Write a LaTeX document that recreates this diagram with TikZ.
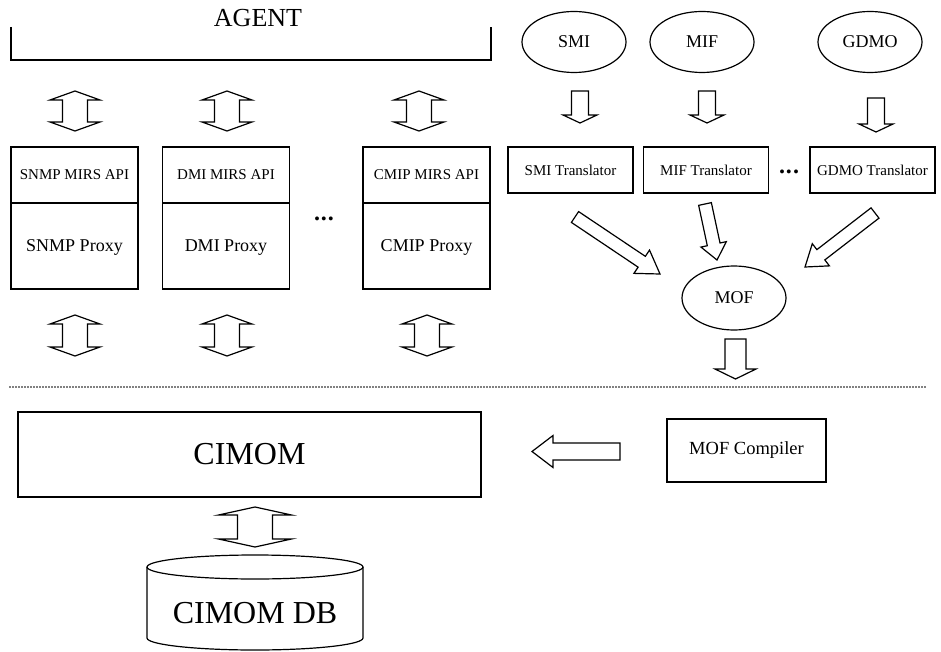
\documentclass[tikz,border=0pt]{standalone}
\usepackage{fontspec}
\setmainfont{Liberation Serif}
\usetikzlibrary{calc,positioning,shapes.geometric}

% hollow block arrows: from, to, shaft half width, head half width, head length
\newcommand{\fatarrow}[5]{%
  \coordinate (fa-b) at ($(#2)!#5!(#1)$);
  \draw[blk] ($(#1)!#3!90:(#2)$) -- ($(fa-b)!#3!90:(#2)$) -- ($(fa-b)!#4!90:(#2)$)
    -- (#2) -- ($(fa-b)!#4!-90:(#2)$) -- ($(fa-b)!#3!-90:(#2)$)
    -- ($(#1)!#3!-90:(#2)$) -- cycle;}
\newcommand{\dblarrow}[5]{%
  \coordinate (fa-a) at ($(#1)!#5!(#2)$);
  \coordinate (fa-b) at ($(#2)!#5!(#1)$);
  \draw[blk] (#1) -- ($(fa-a)!#4!90:(#2)$) -- ($(fa-a)!#3!90:(#2)$)
    -- ($(fa-b)!#3!90:(#2)$) -- ($(fa-b)!#4!90:(#2)$) -- (#2)
    -- ($(fa-b)!#4!-90:(#2)$) -- ($(fa-b)!#3!-90:(#2)$)
    -- ($(fa-a)!#3!-90:(#2)$) -- ($(fa-a)!#4!-90:(#2)$) -- cycle;}

\begin{document}
\begin{tikzpicture}[
  x=1pt,y=-1pt,line width=1.2pt,
  blk/.style={draw,fill=white,line join=miter},
  api/.style={draw,outer sep=0pt,inner sep=0pt,minimum width=127pt,minimum height=56pt,
    text depth=-9pt,font=\fontsize{15}{18}\selectfont},
  px/.style={draw,outer sep=0pt,inner sep=0pt,minimum width=127pt,minimum height=86pt,
    text depth=-7pt,font=\fontsize{18}{21}\selectfont},
  src/.style={draw,ellipse,inner sep=0pt,minimum width=104pt,minimum height=61pt,
    font=\fontsize{18}{21}\selectfont},
  tr/.style={draw,inner sep=0pt,minimum width=125pt,minimum height=46pt,
    font=\fontsize{15}{18}\selectfont},
  dots/.style={inner sep=0pt,font=\fontsize{24}{26}\selectfont\bfseries}
]
  \useasboundingbox (0,0) rectangle (941,652);

  % agent side
  \node[font=\fontsize{26}{30}\selectfont] (agent) at (258,18) {AGENT};
  \draw (11,27) -- (11,60) -- (491,60) -- (491,27);

  \node[api] (snmpapi) at (74.5,175) {SNMP MIRS API};
  \node[px,below=0pt of snmpapi] (snmppx) {SNMP Proxy};
  \node[api] (dmiapi) at (226,175) {DMI MIRS API};
  \node[px,below=0pt of dmiapi] (dmipx) {DMI Proxy};
  \node[api] (cmipapi) at (426.5,175) {CMIP MIRS API};
  \node[px,below=0pt of cmipapi] (cmippx) {CMIP Proxy};
  \node[dots] (dots1) at (324,219) {.\kern1pt.\kern1pt.};

  \foreach \nm/\xa/\xb in {snmp/75/75,dmi/227/227,cmip/419/427}{
    \coordinate (\nm-ua) at (\xa,91);  \coordinate (\nm-ub) at (\xa,131);
    \coordinate (\nm-la) at (\xb,315); \coordinate (\nm-lb) at (\xb,356);
    \dblarrow{\nm-ua}{\nm-ub}{12.5pt}{25pt}{9pt}
    \dblarrow{\nm-la}{\nm-lb}{12.5pt}{25pt}{9pt}
  }

  % information models
  \node[src] (smi) at (574,42) {SMI};
  \node[src] (mif) at (702,42) {MIF};
  \node[src] (gdmo) at (870,42) {GDMO};
  \node[tr] (smitr) at (570.5,170) {SMI Translator};
  \node[tr] (miftr) at (706,170) {MIF Translator};
  \node[tr] (gdmotr) at (872.5,170) {GDMO Translator};
  \node[dots] (dots2) at (789,172) {.\kern1pt.\kern1pt.};
  \node[src,minimum height=64pt] (mof) at (734,298) {MOF};

  \coordinate (smi-o) at (580,91);  \coordinate (smitr-i) at (580,123);
  \coordinate (mif-o) at (707,91);  \coordinate (miftr-i) at (707,123);
  \coordinate (gdmo-o) at (876,98); \coordinate (gdmotr-i) at (876,132);
  \fatarrow{smi-o}{smitr-i}{8.5pt}{17pt}{8pt}
  \fatarrow{mif-o}{miftr-i}{8.5pt}{17pt}{8pt}
  \fatarrow{gdmo-o}{gdmotr-i}{8.5pt}{17pt}{8pt}

  \coordinate (smitr-o) at (575,217);  \coordinate (mof-i1) at (660,274);
  \coordinate (miftr-o) at (705,204);  \coordinate (mof-i2) at (717,260);
  \coordinate (gdmotr-o) at (875,213); \coordinate (mof-i3) at (805,267);
  \fatarrow{smitr-o}{mof-i1}{6.5pt}{14pt}{22pt}
  \fatarrow{miftr-o}{mof-i2}{6.5pt}{13pt}{16pt}
  \fatarrow{gdmotr-o}{mof-i3}{6.5pt}{14pt}{20pt}

  \coordinate (mof-o) at (735.5,339); \coordinate (mofc-i) at (735.5,379);
  \fatarrow{mof-o}{mofc-i}{10.5pt}{20.5pt}{10pt}

  \draw[line width=1.7pt,line cap=round,dash pattern=on 0pt off 3pt] (10,387) -- (925,387);

  % management server
  \node[draw,minimum width=463pt,minimum height=85pt,
    font=\fontsize{32}{36}\selectfont] (cimom) at (249.5,454.5) {CIMOM};
  \node[draw,minimum width=159pt,minimum height=63pt,
    font=\fontsize{18.5}{22}\selectfont] (mofc) at (746.5,450.5) {MOF Compiler};
  \coordinate (mofc-w) at (620,451.5); \coordinate (cimom-e) at (532,451.5);
  \fatarrow{mofc-w}{cimom-e}{8.5pt}{16pt}{21pt}

  \node[font=\fontsize{32}{36}\selectfont] (db) at (255,613) {CIMOM DB};
  \draw (255,567) ellipse [x radius=108pt,y radius=12pt];
  \draw (147,567) -- (147,638) arc[start angle=180,end angle=360,x radius=108pt,y radius=12pt]
    -- (363,567);
  \coordinate (cimom-s) at (255,507); \coordinate (db-n) at (255,547);
  \dblarrow{cimom-s}{db-n}{17.5pt}{36.5pt}{8pt}
\end{tikzpicture}
\end{document}
